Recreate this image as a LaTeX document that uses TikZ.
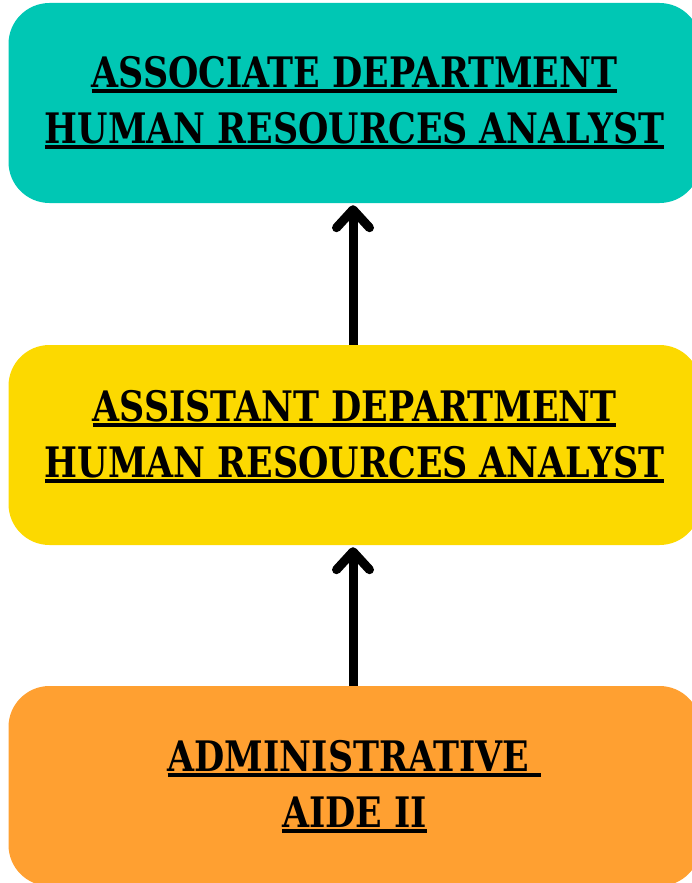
\documentclass[tikz,border=0pt]{standalone}
\usepackage{fontspec}
\usetikzlibrary{arrows.meta}
\newfontfamily\boxfont{DejaVu Serif}[FakeStretch=0.83]
\definecolor{tealbox}{RGB}{0,199,180}
\definecolor{goldbox}{RGB}{252,217,0}
\definecolor{orangebox}{RGB}{255,160,49}
\newcommand\ulx[1]{\setbox0\hbox{#1}\makebox[0pt][l]{\rule[-6pt]{\wd0}{4.5pt}}\box0}
\begin{document}
\begin{tikzpicture}[x=1pt,y=-1pt,
  stage/.style={draw=none, rounded corners=41pt, minimum width=692pt, minimum height=200pt, inner sep=0pt},
  title/.style={font=\boxfont\bfseries\fontsize{42}{56}\selectfont, align=center, anchor=base, inner sep=0pt},
  up/.style={line width=9pt, -{Straight Barb[length=18pt,width=33pt,round]}}]
\clip (0,0) rectangle (692,883);
\node[stage, fill=tealbox] (assoc) at (354.5,103) {};
\node[stage, fill=goldbox] (assist) at (354.5,445) {};
\node[stage, fill=orangebox] (aide) at (354.5,786) {};
\node[title] (assocT) at (354.5,143) {\ulx{ASSOCIATE DEPARTMENT}\\\ulx{HUMAN RESOURCES ANALYST}};
\node[title] (assistT) at (354.5,477) {\ulx{ASSISTANT DEPARTMENT}\\\ulx{HUMAN RESOURCES ANALYST}};
\node[title] (aideT) at (354.5,827) {\ulx{ADMINISTRATIVE\ }\\\ulx{AIDE II}};
\draw[up, shorten >=2pt] ([xshift=-1.5pt]assist.north) -- ([xshift=-1.5pt]assoc.south);
\draw[up, shorten >=2pt] ([xshift=-1.5pt]aide.north) -- ([xshift=-1.5pt]assist.south);
\end{tikzpicture}
\end{document}
